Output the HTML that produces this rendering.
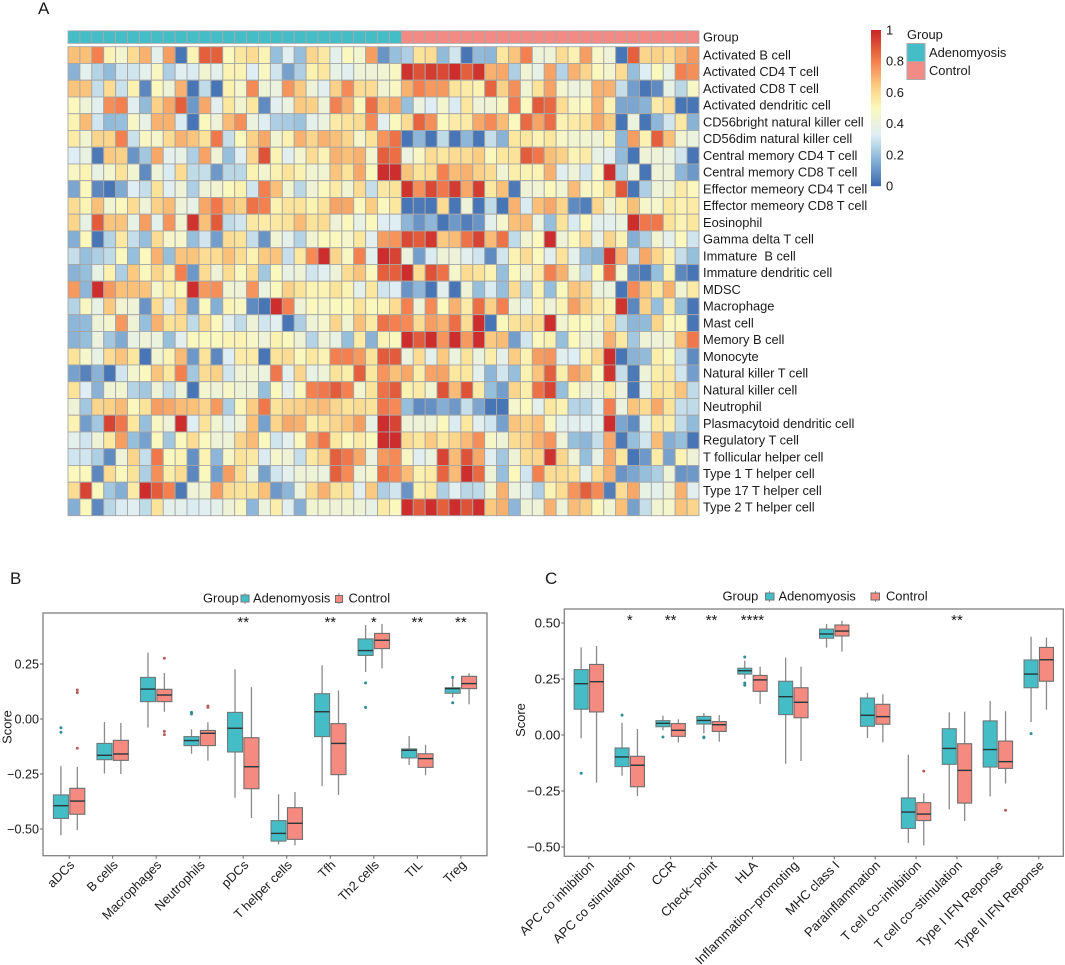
<!DOCTYPE html>
<html lang="en">
<head>
<meta charset="utf-8">
<title>Immune infiltration heatmap and box plots</title>
<style>
html,body{margin:0;padding:0;background:#fff;}
svg{display:block;font-family:"Liberation Sans",Arial,sans-serif;fill:#1a1a1a;}
svg text{white-space:pre;}
</style>
</head>
<body>
<svg id="figure" xmlns="http://www.w3.org/2000/svg" width="1065" height="965" viewBox="0 0 1065 965">
  <rect width="1065" height="965" fill="#fff"/>
  <text x="38" y="14" font-size="17">A</text>
  <text x="10" y="584" font-size="17">B</text>
  <text x="545" y="584" font-size="17">C</text>

  <g id="heatmap"></g>
  <g id="colorbar"></g>
  <g>
    <text x="907" y="39" font-size="12.9">Group</text>
    <rect x="907" y="43.5" width="18" height="18" fill="#45bdc6" stroke="#aaa"/>
    <rect x="907" y="61.5" width="18" height="18" fill="#f28a85" stroke="#aaa"/>
    <text x="929" y="57" font-size="12.9">Adenomyosis</text>
    <text x="929" y="75" font-size="12.9">Control</text>
  </g>

  <g id="panelB"></g>
  <g>
    <text x="203" y="602.5" font-size="12.9">Group</text>
    <line x1="245" x2="245" y1="593" y2="604" stroke="#8c8c8c"/>
    <rect x="241" y="595" width="8" height="7" fill="#45bdc6" stroke="#6e7a7a"/>
    <text x="253" y="602.5" font-size="12.9">Adenomyosis</text>
    <line x1="339" x2="339" y1="593" y2="604" stroke="#8c8c8c"/>
    <rect x="335.5" y="595.5" width="7" height="7" fill="#f48a80" stroke="#6e6e6e"/>
    <text x="348.5" y="602.5" font-size="12.9">Control</text>
  </g>

  <g id="panelC"></g>
  <g>
    <text x="722.5" y="600.5" font-size="12.9">Group</text>
    <line x1="769.5" x2="769.5" y1="591" y2="602" stroke="#8c8c8c"/>
    <rect x="765.5" y="593" width="8.5" height="7" fill="#45bdc6" stroke="#6e7a7a"/>
    <text x="778.5" y="600.5" font-size="12.9">Adenomyosis</text>
    <line x1="875.5" x2="875.5" y1="591" y2="602" stroke="#8c8c8c"/>
    <rect x="871" y="593" width="8.5" height="7" fill="#f48a80" stroke="#6e6e6e"/>
    <text x="886" y="600.5" font-size="12.9">Control</text>
  </g>
</svg>

<script>
/* ---------- Panel A data ---------- */
const heatmapGroupLabel = "Group";
const heatmapGroupSizes = [28, 25];
const colorbarTicks = [0, 0.2, 0.4, 0.6, 0.8, 1];
const heatmapRowLabels = [
"Activated B cell","Activated CD4 T cell","Activated CD8 T cell","Activated dendritic cell",
"CD56bright natural killer cell","CD56dim natural killer cell","Central memory CD4 T cell","Central memory CD8 T cell",
"Effector memeory CD4 T cell","Effector memeory CD8 T cell","Eosinophil","Gamma delta T cell",
"Immature  B cell","Immature dendritic cell","MDSC","Macrophage","Mast cell","Memory B cell","Monocyte",
"Natural killer T cell","Natural killer cell","Neutrophil","Plasmacytoid dendritic cell","Regulatory T cell",
"T follicular helper cell","Type 1 T helper cell","Type 17 T helper cell","Type 2 T helper cell"];
const heatmapValues = [
[.67,.67,.8,.52,.45,.6,.7,.36,.74,.03,.52,.87,.87,.5,.57,.6,.52,.2,.34,.2,.62,.56,.36,.5,.45,.74,.1,.2,.24,.58,.6,.19,.3,.03,.19,.18,.57,.66,.8,.42,.42,.6,.53,.74,.47,.42,.03,.87,.62,.63,.6,.68,.75],
[.17,.36,.25,.19,.3,.3,.36,.48,.24,.34,.32,.44,.36,.52,.52,.33,.48,.3,.13,.24,.53,.57,.38,.34,.42,.42,.44,.48,.97,.9,.95,.92,.98,.87,.97,.7,.72,.24,.43,.38,.73,.25,.7,.62,.5,.45,.6,.2,.33,.5,.38,.8,.77],
[.66,.66,.28,.6,.29,.53,.07,.5,.42,.7,.03,.27,.03,.53,.46,.78,.42,.4,.76,.65,.42,.35,.63,.78,.6,.6,.44,.48,.7,.8,.75,.75,.58,.55,.52,.86,.63,.77,.43,.58,.73,.45,.4,.43,.7,.7,.28,.12,.03,.08,.38,.26,.47],
[.5,.42,.35,.77,.8,.35,.19,.63,.72,.87,.11,.72,.35,.57,.44,.57,.08,.35,.4,.65,.63,.42,.8,.7,.5,.84,.67,.72,.2,.4,.33,.45,.32,.57,.42,.43,.48,.82,.5,.88,.85,.6,.48,.5,.7,.52,.14,.14,.17,.55,.6,.03,.03],
[.52,.68,.3,.19,.2,.47,.38,.7,.7,.32,.03,.5,.42,.68,.77,.4,.33,.24,.23,.21,.36,.4,.55,.58,.6,.78,.35,.5,.6,.86,.77,.5,.55,.55,.72,.78,.68,.5,.85,.73,.84,.53,.55,.58,.72,.64,.03,.4,.03,.18,.3,.56,.17],
[.55,.44,.62,.62,.8,.29,.48,.46,.6,.7,.66,.58,.82,.28,.5,.63,.72,.44,.53,.7,.62,.7,.67,.62,.46,.58,.76,.83,.03,.18,.03,.27,.03,.18,.03,.28,.17,.57,.57,.52,.57,.47,.44,.44,.42,.52,.18,.74,.53,.87,.67,.44,.4],
[.33,.39,.04,.65,.63,.1,.22,.72,.36,.38,.24,.73,.42,.2,.34,.62,.9,.52,.35,.45,.6,.52,.7,.67,.7,.45,.87,.84,.4,.48,.6,.57,.6,.6,.64,.5,.57,.58,.88,.82,.67,.63,.52,.55,.38,.35,.19,.03,.42,.42,.4,.3,.03],
[.48,.52,.38,.45,.58,.44,.08,.42,.32,.6,.27,.28,.11,.26,.26,.52,.45,.53,.58,.53,.44,.44,.66,.58,.72,.5,.98,.98,.66,.58,.6,.8,.68,.7,.63,.6,.43,.54,.52,.52,.7,.34,.42,.3,.48,.98,.24,.4,.03,.42,.42,.18,.11],
[.14,.5,.07,.03,.15,.33,.28,.58,.34,.42,.24,.42,.44,.5,.53,.3,.8,.67,.44,.26,.42,.5,.55,.44,.6,.28,.56,.58,.97,.77,.92,.82,.95,.72,.95,.56,.67,.04,.42,.43,.5,.44,.68,.48,.5,.6,.89,.03,.24,.42,.42,.55,.5],
[.6,.52,.67,.44,.5,.6,.42,.63,.68,.42,.38,.72,.82,.68,.63,.83,.8,.53,.58,.58,.52,.58,.73,.72,.5,.64,.5,.57,.03,.04,.03,.6,.03,.42,.03,.27,.03,.7,.32,.67,.72,.62,.08,.05,.62,.44,.54,.67,.46,.46,.57,.53,.55],
[.62,.38,.88,.66,.66,.38,.74,.36,.76,.44,.97,.67,.88,.27,.3,.56,.55,.56,.58,.68,.58,.6,.42,.5,.38,.5,.33,.33,.18,.1,.18,.03,.11,.05,.1,.36,.46,.67,.68,.4,.2,.58,.32,.5,.36,.36,.4,.98,.82,.82,.58,.52,.57],
[.16,.5,.03,.25,.56,.28,.2,.6,.46,.46,.2,.3,.12,.6,.58,.28,.1,.43,.36,.25,.44,.5,.5,.46,.57,.35,.74,.76,.92,.88,.96,.65,.68,.83,.93,.68,.83,.27,.44,.5,.98,.42,.5,.6,.38,.62,.52,.16,.24,.44,.36,.5,.3],
[.28,.2,.24,.27,.5,.2,.5,.7,.2,.66,.66,.6,.6,.67,.6,.52,.65,.66,.28,.56,.78,.98,.62,.48,.8,.36,.98,.93,.4,.12,.32,.42,.42,.35,.3,.08,.3,.52,.6,.5,.35,.58,.36,.2,.17,.96,.7,.28,.72,.62,.53,.28,.2],
[.17,.2,.38,.53,.24,.65,.5,.62,.54,.8,.11,.6,.42,.6,.5,.6,.22,.5,.38,.42,.3,.34,.42,.6,.66,.5,.87,.87,.98,.6,.9,.83,.46,.6,.58,.52,.2,.5,.42,.55,.8,.7,.44,.28,.5,.86,.45,.08,.04,.2,.53,.07,.03],
[.75,.18,.98,.75,.67,.67,.66,.46,.55,.5,.98,.75,.77,.44,.42,.76,.4,.5,.63,.58,.52,.52,.58,.52,.36,.57,.3,.33,.1,.18,.03,.35,.03,.42,.2,.32,.2,.6,.25,.52,.2,.5,.66,.62,.4,.4,.03,.78,.66,.57,.7,.44,.55],
[.25,.48,.38,.65,.44,.42,.1,.6,.32,.62,.13,.5,.16,.52,.48,.08,.03,.98,.8,.42,.5,.47,.5,.5,.58,.5,.52,.6,.8,.42,.78,.5,.7,.55,.84,.63,.8,.42,.36,.52,.42,.52,.74,.63,.55,.52,.97,.07,.63,.2,.55,.2,.03],
[.18,.19,.42,.45,.75,.42,.2,.7,.58,.6,.27,.6,.5,.34,.27,.42,.3,.34,.03,.24,.42,.46,.62,.44,.67,.55,.83,.8,.78,.6,.74,.7,.84,.6,.98,.03,.5,.58,.6,.6,.98,.44,.5,.5,.44,.6,.27,.18,.19,.62,.5,.5,.03],
[.17,.2,.4,.22,.15,.38,.42,.4,.2,.35,.5,.5,.5,.52,.52,.47,.42,.53,.5,.42,.25,.42,.38,.2,.55,.17,.52,.5,.98,.88,.98,.76,.98,.75,.98,.65,.68,.12,.3,.5,.53,.2,.5,.42,.42,.7,.56,.22,.42,.42,.44,.67,.82],
[.58,.46,.38,.6,.66,.57,.03,.44,.52,.68,.11,.58,.07,.33,.55,.55,.03,.58,.6,.5,.57,.52,.8,.8,.75,.58,.88,.88,.4,.6,.36,.65,.4,.58,.4,.54,.37,.64,.53,.74,.76,.34,.33,.52,.62,.98,.03,.17,.19,.54,.5,.28,.08],
[.13,.06,.17,.03,.3,.45,.5,.66,.57,.8,.22,.6,.63,.3,.42,.44,.4,.82,.36,.62,.38,.42,.58,.54,.87,.57,.76,.67,.72,.54,.73,.73,.57,.57,.36,.18,.3,.2,.53,.66,.87,.54,.74,.67,.5,.97,.28,.04,.42,.54,.56,.3,.12],
[.58,.33,.17,.43,.44,.25,.22,.42,.27,.42,.03,.45,.42,.47,.42,.42,.2,.5,.35,.5,.8,.82,.88,.8,.45,.58,.83,.88,.53,.55,.44,.9,.68,.9,.55,.2,.12,.62,.54,.83,.93,.2,.5,.42,.42,.56,.4,.03,.36,.58,.57,.66,.27],
[.42,.22,.62,.63,.68,.5,.58,.74,.72,.68,.67,.62,.75,.24,.5,.64,.82,.58,.62,.63,.66,.68,.62,.58,.6,.58,.82,.78,.2,.08,.09,.16,.11,.28,.14,.03,.03,.46,.5,.36,.57,.53,.25,.25,.34,.8,.4,.66,.6,.72,.58,.28,.27],
[.52,.12,.22,.93,.82,.57,.2,.48,.42,.98,.33,.58,.44,.36,.42,.67,.13,.62,.72,.7,.54,.58,.62,.66,.74,.38,.98,.93,.42,.42,.42,.5,.32,.57,.35,.3,.13,.66,.63,.67,.48,.36,.35,.34,.36,.98,.14,.08,.36,.56,.54,.27,.19],
[.36,.3,.42,.56,.74,.2,.13,.5,.22,.5,.6,.5,.42,.42,.62,.68,.5,.3,.36,.5,.72,.82,.57,.5,.55,.5,.98,.98,.6,.57,.65,.57,.62,.68,.77,.47,.42,.6,.62,.7,.76,.42,.2,.18,.28,.72,.04,.2,.3,.68,.16,.2,.03],
[.3,.3,.24,.08,.42,.62,.28,.82,.5,.52,.09,.52,.18,.47,.58,.56,.32,.46,.42,.28,.56,.62,.87,.82,.72,.4,.75,.78,.48,.34,.4,.93,.68,.9,.72,.34,.22,.42,.6,.62,.97,.62,.42,.2,.38,.72,.57,.03,.11,.55,.13,.52,.42],
[.5,.5,.07,.6,.5,.58,.24,.77,.54,.6,.07,.5,.12,.74,.6,.42,.13,.3,.36,.42,.42,.4,.87,.78,.42,.46,.83,.78,.68,.53,.55,.86,.68,.98,.85,.42,.2,.5,.3,.8,.6,.6,.58,.36,.6,.7,.1,.14,.2,.24,.42,.1,.11],
[.6,.93,.5,.22,.16,.55,.98,.88,.8,.04,.42,.44,.74,.6,.58,.58,.67,.11,.18,.4,.6,.7,.58,.58,.34,.65,.24,.3,.1,.53,.57,.24,.34,.26,.27,.44,.7,.4,.36,.24,.52,.6,.76,.87,.78,.05,.6,.72,.38,.36,.42,.7,.35],
[.16,.5,.07,.26,.32,.34,.27,.58,.36,.36,.32,.34,.36,.42,.48,.18,.4,.54,.34,.16,.44,.44,.42,.44,.42,.38,.55,.5,.98,.88,.98,.87,.98,.9,.98,.65,.7,.18,.42,.42,.7,.42,.68,.64,.5,.44,.67,.13,.28,.44,.46,.66,.62]
];

/* ---------- Panel B data ---------- */
const panelBCategories = ["aDCs","B cells","Macrophages","Neutrophils","pDCs","T helper cells","Tfh","Th2 cells","TIL","Treg"];
const panelBYTicks = [0.25, 0, -0.25, -0.5];
const panelBSignificance = ["","","","","**","","**","*","**","**"];
const panelBAdenoLow = [-.529,-.248,-.039,-.158,-.358,-.57,-.305,.214,-.209,.098];
const panelBAdenoQ1 = [-.452,-.185,.079,-.121,-.15,-.555,-.08,.289,-.177,.117];
const panelBAdenoMedian = [-.394,-.165,.136,-.098,-.042,-.52,.033,.311,-.142,.138];
const panelBAdenoQ3 = [-.345,-.111,.189,-.08,.03,-.462,.115,.364,-.136,.142];
const panelBAdenoHigh = [-.214,-.014,.302,-.047,.226,-.342,.244,.427,-.077,.185];
const panelBAdenoOutliers = [[-.04,-.06],[],[],[.03,.023],[],[],[],[.164,.053],[],[.189,.074]];
const panelBControlLow = [-.505,-.25,.033,-.189,-.45,-.574,-.345,.23,-.256,.067];
const panelBControlQ1 = [-.433,-.188,.079,-.121,-.317,-.547,-.253,.32,-.22,.138];
const panelBControlMedian = [-.373,-.159,.109,-.065,-.217,-.474,-.111,.358,-.18,.161];
const panelBControlQ3 = [-.315,-.097,.135,-.052,-.085,-.403,-.021,.389,-.158,.194];
const panelBControlHigh = [-.218,-.018,.209,-.015,.145,-.332,.13,.432,-.117,.208];
const panelBControlOutliers = [[.132,.12,-.133],[],[.276,-.056,-.071],[.059,.053],[],[],[],[],[],[]];

/* ---------- Panel C data ---------- */
const panelCCategories = ["APC co inhibition","APC co stimulation","CCR","Check\u2212point","HLA","Inflammation\u2212promoting","MHC class I","Parainflammation","T cell co\u2212inhibition","T cell co\u2212stimulation","Type I IFN Reponse","Type II IFN Reponse"];
const panelCYTicks = [0.5, 0.25, 0, -0.25, -0.5];
const panelCSignificance = ["","*","**","**","****","","","","","**","",""];
const panelCAdenoLow = [-.015,-.182,.021,.007,.251,-.128,.39,-.013,-.482,-.332,-.274,.058];
const panelCAdenoQ1 = [.115,-.141,.037,.049,.272,.091,.432,.039,-.417,-.131,-.143,.211];
const panelCAdenoMedian = [.229,-.098,.052,.065,.287,.171,.451,.088,-.344,-.06,-.065,.272];
const panelCAdenoQ3 = [.292,-.058,.064,.083,.298,.24,.473,.165,-.281,.028,.063,.335];
const panelCAdenoHigh = [.391,.054,.086,.098,.332,.345,.496,.188,-.088,.101,.152,.439];
const panelCAdenoOutliers = [[-.171],[.089],[-.009],[-.009,-.012],[.348,.232,.222],[],[],[],[],[],[],[.006]];
const panelCControlLow = [-.213,-.272,-.033,-.03,.138,-.116,.372,-.033,-.493,-.384,-.217,.113];
const panelCControlQ1 = [.103,-.231,-.006,.016,.195,.077,.442,.048,-.382,-.304,-.149,.24];
const panelCControlMedian = [.238,-.135,.021,.046,.246,.146,.464,.082,-.353,-.158,-.119,.336];
const panelCControlQ3 = [.315,-.095,.051,.06,.266,.211,.491,.137,-.302,-.039,-.027,.391];
const panelCControlHigh = [.397,.027,.07,.089,.305,.305,.51,.182,-.26,.104,.106,.435];
const panelCControlOutliers = [[],[],[],[],[],[],[],[],[-.161],[],[-.336],[]];

/* ---------- helpers ---------- */
const SVGNS = "http://www.w3.org/2000/svg";
function mk(tag, attrs, parent) {
  const node = document.createElementNS(SVGNS, tag);
  for (const k in attrs) node.setAttribute(k, attrs[k]);
  parent.appendChild(node);
  return node;
}
const scaleStops = [0,.1,.2,.27,.33,.42,.5,.58,.65,.72,.8,.88,1];
const scaleColors = [[58,103,173],[106,148,198],[150,191,220],[192,219,232],[223,238,244],[238,243,216],[251,248,189],[251,228,154],[251,201,127],[247,168,104],[244,128,80],[226,91,58],[201,37,42]];
function heatColor(v) {
  const t = Math.max(0, Math.min(1, v));
  let i = 0;
  while (i < scaleStops.length - 2 && t > scaleStops[i + 1]) i++;
  const f = (t - scaleStops[i]) / (scaleStops[i + 1] - scaleStops[i]);
  const a = scaleColors[i], b = scaleColors[i + 1];
  return "rgb(" + [0, 1, 2].map(function (c) { return Math.round(a[c] + (b[c] - a[c]) * f); }).join(",") + ")";
}

/* ---------- Panel A ---------- */
(function drawHeatmap() {
  const g = document.getElementById("heatmap");
  const left = 68, top = 46.7;
  const nCols = heatmapValues[0].length, nRows = heatmapValues.length;
  const cw = 631 / nCols, ch = 469 / nRows;
  const xH = function (c) { return left + c * cw; };
  const yH = function (r) { return top + r * ch; };
  const groupColors = ["#45bdc6", "#f28a85"];
  const annotation = mk("g", {}, g);
  
  
  let col = 0;
  heatmapGroupSizes.forEach(function (size, gi) {
    for (let k = 0; k < size; k++) {
      const cell = mk("rect", { x: xH(col), y: 30.8, width: cw, height: 12.6, fill: groupColors[gi], stroke: "#a9a9a9", "stroke-width": 0.8 }, annotation);
      
      
      col++;
    }
  });
  const annotationLabel = mk("text", { x: 703, y: 41.5, "font-size": 12.85 }, g);
  annotationLabel.textContent = heatmapGroupLabel;
  
  
  heatmapValues.forEach(function (row, r) {
    row.forEach(function (v, c) {
      const cell = mk("rect", { x: xH(c), y: yH(r), width: cw, height: ch, fill: heatColor(v), stroke: "#a6a6a6", "stroke-width": 0.9 }, g);
      
      
    });
    const label = mk("text", { x: 703, y: yH(r) + ch / 2 + 4.3, "font-size": 12.85 }, g);
    label.textContent = heatmapRowLabels[r];
    
    
  });

  const bar = document.getElementById("colorbar");
  const yC = function (v) { return 186 - v * 156; };
  for (let i = 0; i < 156; i++) {
    const strip = mk("rect", { x: 871, y: yC((i + 1) / 156), width: 10, height: 1.2, fill: heatColor((i + 0.5) / 156) }, bar);
    
    
  }
  colorbarTicks.forEach(function (t) {
    const label = mk("text", { x: 886, y: yC(t) + 4.5, "font-size": 12.9 }, bar);
    label.textContent = String(t);
    
    
  });
})();

/* ---------- Box plots ---------- */
function drawBoxPanel(cfg) {
  const g = document.getElementById(cfg.id);
  const n = cfg.categories.length;
  const step = (cfg.right - cfg.left) / (n - 1 + 1.2);
  const xS = function (i) { return cfg.left + (0.6 + i) * step; };
  const yS = function (v) { return cfg.zero - v * cfg.unit; };

  cfg.series.forEach(function (s) {
    cfg.categories.forEach(function (_, i) {
      const cx = xS(i) + s.side * cfg.offset;
      const whiskerHigh = mk("line", { x1: cx, x2: cx, y1: yS(s.q3[i]), y2: yS(s.high[i]), stroke: "#8a8a8a", "stroke-width": 1.3 }, g);
      
      
      const whiskerLow = mk("line", { x1: cx, x2: cx, y1: yS(s.q1[i]), y2: yS(s.low[i]), stroke: "#8a8a8a", "stroke-width": 1.3 }, g);
      
      
      const box = mk("rect", { x: cx - cfg.boxWidth / 2, y: yS(s.q3[i]), width: cfg.boxWidth, height: yS(s.q1[i]) - yS(s.q3[i]), fill: s.fill, stroke: s.stroke, "stroke-width": 1.1 }, g);
      
      
      const median = mk("line", { x1: cx - cfg.boxWidth / 2, x2: cx + cfg.boxWidth / 2, y1: yS(s.median[i]), y2: yS(s.median[i]), stroke: "#27373a", "stroke-width": 1.4 }, g);
      
      
      s.outliers[i].forEach(function (v) {
        const dot = mk("circle", { cx: cx, cy: yS(v), r: 1.5, fill: s.dot }, g);
        
        
      });
    });
  });

  const frame = mk("rect", { x: cfg.left, y: cfg.top, width: cfg.right - cfg.left, height: cfg.bottom - cfg.top, fill: "none", stroke: "#808080", "stroke-width": 1.3 }, g);
  
  

  cfg.yTicks.forEach(function (t) {
    const tick = mk("line", { x1: cfg.left - 3, x2: cfg.left, y1: yS(t), y2: yS(t), stroke: "#666", "stroke-width": 1 }, g);
    
    
    const label = mk("text", { x: cfg.left - 4, y: yS(t) + 4.6, "font-size": cfg.yFont, "text-anchor": "end" }, g);
    label.textContent = (t < 0 ? "\u2212" : "") + Math.abs(t).toFixed(2);
    
    
  });

  cfg.categories.forEach(function (name, i) {
    const tick = mk("line", { x1: xS(i), x2: xS(i), y1: cfg.bottom, y2: cfg.bottom + 3, stroke: "#666", "stroke-width": 1 }, g);
    
    
    const ax = xS(i) + 6, ay = cfg.bottom + 10;
    const label = mk("text", { x: ax, y: ay, "font-size": cfg.xFont, "text-anchor": "end", transform: "rotate(-45 " + ax + " " + ay + ")" }, g);
    label.textContent = name;
    
    
    if (cfg.significance[i]) {
      const sig = mk("text", { x: xS(i), y: cfg.sigY, "font-size": 15, "text-anchor": "middle" }, g);
      sig.textContent = cfg.significance[i];
      
      
    }
  });

  const title = mk("text", { x: cfg.titleX, y: cfg.titleY, "font-size": 12.9, "text-anchor": "middle", transform: "rotate(-90 " + cfg.titleX + " " + cfg.titleY + ")" }, g);
  title.textContent = "Score";
  
  
}

const adenoStyle = { fill: "#45bdc6", stroke: "#6e7a7a", dot: "#2f8d93", side: -1 };
const controlStyle = { fill: "#f48a80", stroke: "#6e6e6e", dot: "#b9605f", side: 1 };

drawBoxPanel({
  id: "panelB", left: 43, right: 487, top: 613, bottom: 855.7, zero: 719, unit: 220,
  offset: 8.2, boxWidth: 15, sigY: 627, titleX: 11.5, titleY: 727, yFont: 12.6, xFont: 12.8,
  categories: panelBCategories, yTicks: panelBYTicks, significance: panelBSignificance,
  series: [
    Object.assign({ low: panelBAdenoLow, q1: panelBAdenoQ1, median: panelBAdenoMedian, q3: panelBAdenoQ3, high: panelBAdenoHigh, outliers: panelBAdenoOutliers }, adenoStyle),
    Object.assign({ low: panelBControlLow, q1: panelBControlQ1, median: panelBControlMedian, q3: panelBControlQ3, high: panelBControlHigh, outliers: panelBControlOutliers }, controlStyle)
  ]
});

drawBoxPanel({
  id: "panelC", left: 564.3, right: 1063.3, top: 609, bottom: 856.3, zero: 735, unit: 224,
  offset: 7.7, boxWidth: 14, sigY: 625, titleX: 525, titleY: 720, yFont: 13.2, xFont: 13,
  categories: panelCCategories, yTicks: panelCYTicks, significance: panelCSignificance,
  series: [
    Object.assign({ low: panelCAdenoLow, q1: panelCAdenoQ1, median: panelCAdenoMedian, q3: panelCAdenoQ3, high: panelCAdenoHigh, outliers: panelCAdenoOutliers }, adenoStyle),
    Object.assign({ low: panelCControlLow, q1: panelCControlQ1, median: panelCControlMedian, q3: panelCControlQ3, high: panelCControlHigh, outliers: panelCControlOutliers }, controlStyle)
  ]
});
</script>
</body>
</html>
